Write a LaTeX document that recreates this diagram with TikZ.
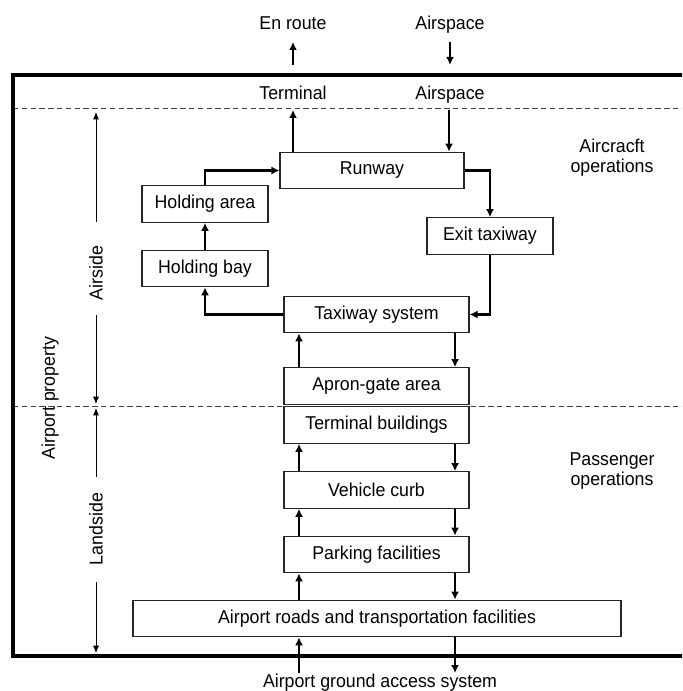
\documentclass[tikz,border=0pt]{standalone}
\usepackage{fontspec}
\setmainfont{Liberation Sans}[FakeStretch=0.955]
\usetikzlibrary{arrows.meta}

\begin{document}
\begin{tikzpicture}[x=0.75pt, y=-0.75pt,
    every node/.style={font=\fontsize{13.95}{15}\selectfont},
    box/.style={draw=black!85, line width=0.8pt, inner sep=0pt, minimum height=27.5pt},
    flow/.style={line width=1.9pt, -{Latex[length=6pt,width=6pt]}},
    span/.style={line width=0.6pt, -{Latex[length=5.5pt,width=4.5pt]}},
    zone/.style={draw=black!75, line width=0.7pt, dash pattern=on 4pt off 2.6pt}]
  \useasboundingbox (0,0) rectangle (682,691);
  \clip (0,0) rectangle (682,691);

  \draw[zone] (13,108) -- (700,108);
  \draw[zone] (13,406) -- (700,406);
  \draw[line width=3pt] (700,75) -- (13,75) -- (13,656) -- (700,656);

  \coordinate (upx) at (299,0);
  \coordinate (dnx) at (455,0);

  \node[box, minimum width=138pt] (runway) at (372,170.5) {Runway};
  \node[box, minimum width=94.5pt] (exittaxi) at (490,236) {Exit taxiway};
  \node[box, minimum width=94.5pt] (holdarea) at (205,204) {Holding area};
  \node[box, minimum width=94.5pt] (holdbay) at (205,268.5) {Holding bay};
  \node[box, minimum width=138.75pt] (taxisys) at (376.5,314.5) {Taxiway system};
  \node[box, minimum width=138.75pt] (apron) at (376.5,386) {Apron-gate area};
  \node[box, minimum width=138.75pt] (termbld) at (376.5,425) {Terminal buildings};
  \node[box, minimum width=138.75pt] (curb) at (376.5,490) {Vehicle curb};
  \node[box, minimum width=138.75pt] (park) at (376.5,554.5) {Parking facilities};
  \node[box, minimum width=366pt] (roads) at (377,618.5) {Airport roads and transportation facilities};

  \node[anchor=base] (enroute) at (293,30) {En route};
  \node[anchor=base] (airspout) at (450,30) {Airspace};
  \node[anchor=base] (terminal) at (293,100) {Terminal};
  \node[anchor=base] (airspin) at (450,100) {Airspace};
  \node (gndacc) at (380,683) {Airport ground access system};
  \node[align=center] (acops) at (612,158) {Aircracft\\operations};
  \node[align=center] (paxops) at (612,471) {Passenger\\operations};
  \node[rotate=90] (property) at (50,398) {Airport property};
  \node[rotate=90] (airside) at (96,273) {Airside};
  \node[rotate=90] (landside) at (96,529) {Landside};

  \coordinate (enA) at (293,65);
  \coordinate (enB) at (293,42);
  \coordinate (asA) at (450,42);
  \coordinate (asB) at (450,65);
  \coordinate (tmaL) at (293,110);
  \coordinate (tmaR) at (449,110);
  \coordinate (gndL) at (299,673);
  \coordinate (gndR) at (455,673);

  \draw[flow] (enA) -- (enB);
  \draw[flow] (asA) -- (asB);
  \draw[flow] (runway.north -| tmaL) -- (tmaL);
  \draw[flow] (tmaR) -- (runway.north -| tmaR);
  \draw[flow] (runway.east) -| (exittaxi.north);
  \draw[flow] (exittaxi.south) |- (taxisys.east);
  \draw[flow] (taxisys.west) -| (holdbay.south);
  \draw[flow] (holdbay) -- (holdarea);
  \draw[flow] (holdarea.north) |- (runway.west);
  \foreach \a/\b in {roads/park, park/curb, curb/termbld, apron/taxisys} {
    \draw[flow] (\a.north -| upx) -- (\b.south -| upx);
    \draw[flow] (\b.south -| dnx) -- (\a.north -| dnx);
  }
  \draw[flow] (gndL) -- (roads.south -| upx);
  \draw[flow] (roads.south -| dnx) -- (gndR);

  \coordinate (asTop) at (96,112);
  \coordinate (asMid) at (96,404);
  \coordinate (lsMid) at (96,408);
  \coordinate (lsBot) at (96,653);
  \draw[span] (96,222) -- (asTop);
  \draw[span] (96,315) -- (asMid);
  \draw[span] (96,477) -- (lsMid);
  \draw[span] (96,582) -- (lsBot);
\end{tikzpicture}
\end{document}
